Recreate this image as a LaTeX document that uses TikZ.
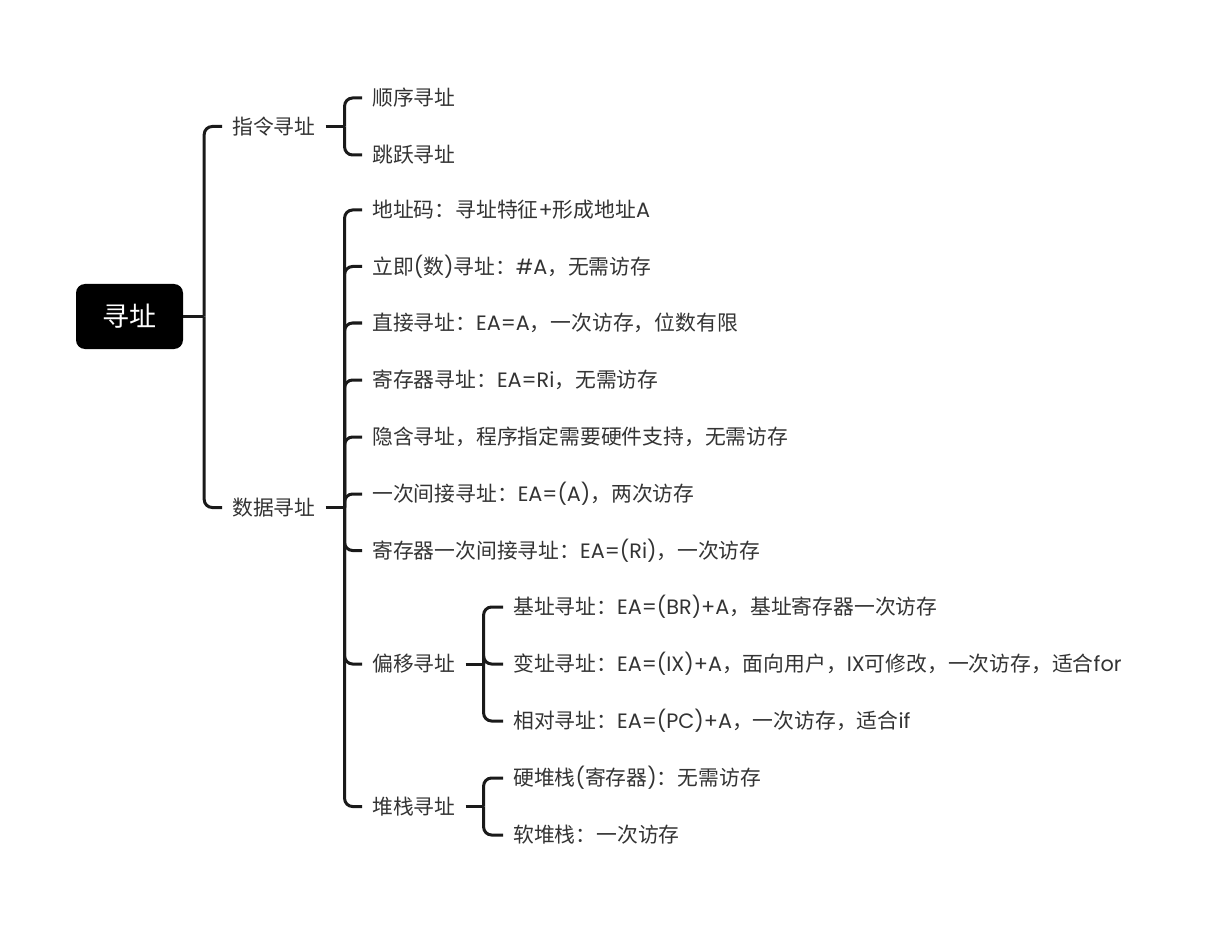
\documentclass[tikz,border=0pt]{standalone}
\usepackage{fontspec}
\setmainfont{Noto Sans CJK SC}
\newfontfamily\latf{Poppins}
\newcommand\lt[1]{{\latf #1}}
\usetikzlibrary{calc}
\definecolor{txt}{HTML}{333333}
\definecolor{ln}{HTML}{1A1A1A}
\tikzset{
 conn/.style={draw=ln, line width=3pt, rounded corners=8pt},
 topic/.style={anchor=west, inner xsep=10pt, inner ysep=2pt, text=txt, font=\fontsize{20.8}{24}\selectfont},
 rootbox/.style={fill=black, rounded corners=9pt, minimum width=107pt, minimum height=65pt, text=white, font=\fontsize{27}{30}\selectfont}
}
\begin{document}
\begin{tikzpicture}[x=1pt,y=-1pt]
\useasboundingbox (0,0) rectangle (1210,933);
\node[rootbox] (root) at (129.5,316.5) {寻址};
\node[topic] (zl) at (222,126.5) {指令寻址};
\node[topic] (sj) at (222,507.5) {数据寻址};
% instruction addressing
\node[topic] (a1) at (362,98) {顺序寻址};
\node[topic] (a2) at (362,155) {跳跃寻址};
% data addressing
\node[topic] (b1) at (362,210) {地址码：寻址特征\lt{+}形成地址\lt{A}};
\node[topic] (b2) at (362,266.5) {立即\lt{(}数\lt{)}寻址：\lt{\#A}，无需访存};
\node[topic] (b3) at (362,323) {直接寻址：\lt{EA=A}，一次访存，位数有限};
\node[topic] (b4) at (362,380) {寄存器寻址：\lt{EA=Ri}，无需访存};
\node[topic] (b5) at (362,437) {隐含寻址，程序指定需要硬件支持，无需访存};
\node[topic] (b6) at (362,494) {一次间接寻址：\lt{EA=(A)}，两次访存};
\node[topic] (b7) at (362,550.5) {寄存器一次间接寻址：\lt{EA=(Ri)}，一次访存};
\node[topic] (py) at (362,664) {偏移寻址};
\node[topic] (dz) at (362,806.5) {堆栈寻址};
% offset
\node[topic] (c1) at (503,607) {基址寻址：\lt{EA=(BR)+A}，基址寄存器一次访存};
\node[topic] (c2) at (503,664) {变址寻址：\lt{EA=(IX)+A}，面向用户，\lt{IX}可修改，一次访存，适合\lt{for}};
\node[topic] (c3) at (503,721) {相对寻址：\lt{EA=(PC)+A}，一次访存，适合\lt{if}};
% stack
\node[topic] (d1) at (503,778) {硬堆栈\lt{(}寄存器\lt{)}：无需访存};
\node[topic] (d2) at (503,835) {软堆栈：一次访存};
% junctions
\coordinate (j0) at ($(root.east)+(21,0)$);
\coordinate (j1) at ($(zl.east)+(19,0)$);
\coordinate (j2) at ($(sj.east)+(19,0)$);
\coordinate (j3) at ($(py.east)+(18,0)$);
\coordinate (j4) at ($(dz.east)+(18,0)$);
% connectors
\draw[conn] (root.east) -- (j0);
\draw[conn] (j0) |- (zl.west);
\draw[conn] (j0) |- (sj.west);
\draw[conn] (zl.east) -- (j1);
\foreach \n in {a1,a2} \draw[conn] (j1) |- (\n.west);
\draw[conn] (sj.east) -- (j2);
\foreach \n in {b1,b2,b3,b4,b5,b6,b7,py,dz} \draw[conn] (j2) |- (\n.west);
\draw[conn] (py.east) -- (j3);
\foreach \n in {c1,c2,c3} \draw[conn] (j3) |- (\n.west);
\draw[conn] (dz.east) -- (j4);
\foreach \n in {d1,d2} \draw[conn] (j4) |- (\n.west);
\end{tikzpicture}
\end{document}
